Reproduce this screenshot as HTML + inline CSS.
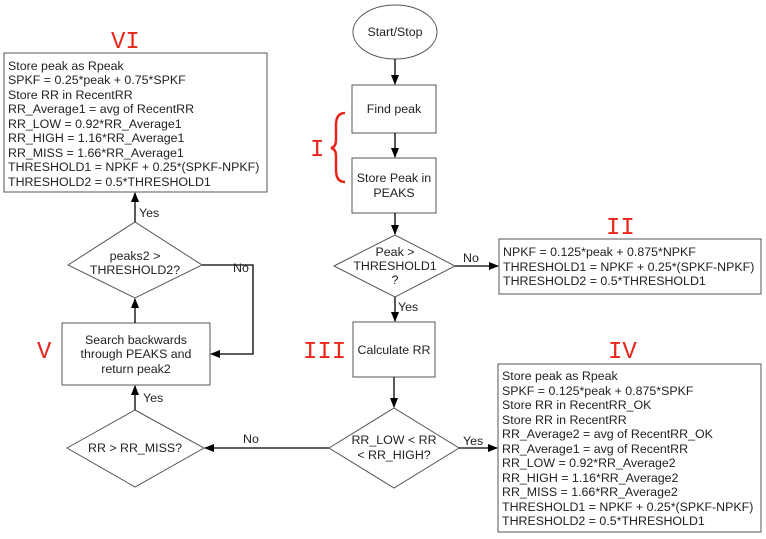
<!DOCTYPE html>
<html><head><meta charset="utf-8"><style>
html,body{margin:0;padding:0;background:#fff;}
svg{display:block;font-family:"Liberation Sans",sans-serif;}
.t{font-size:12.4px;fill:#222;}
.r{font-family:"Liberation Mono",monospace;font-size:24px;fill:#e8261c;}
</style></head><body>
<svg width="766" height="539" viewBox="0 0 766 539">
<defs><marker id="a" markerWidth="10" markerHeight="10" refX="9" refY="5" orient="auto" markerUnits="userSpaceOnUse"><path d="M0,1 L10,5 L0,9 z" fill="#000"/></marker></defs>
<g fill="#fff" stroke="#555" stroke-width="1">
<ellipse cx="395" cy="32" rx="42" ry="27"/>
<rect x="352" y="85" width="84" height="48"/>
<rect x="352" y="158" width="84" height="55"/>
<polygon points="334,266 395,235 455,266 395,297"/>
<rect x="499" y="239" width="262" height="55"/>
<rect x="353" y="322" width="82" height="55"/>
<polygon points="329,448 394,408 459,448 394,488"/>
<rect x="498" y="364" width="263" height="168"/>
<rect x="4" y="53" width="263" height="139"/>
<polygon points="68,265 135,222 202,265 135,298"/>
<rect x="62" y="323" width="148" height="62"/>
<polygon points="67,448 135,410 204,448 135,487"/>
</g>
<g stroke="#000" stroke-width="1.3" fill="none" marker-end="url(#a)">
<line x1="395" y1="59" x2="395" y2="84"/>
<line x1="395" y1="133" x2="395" y2="157"/>
<line x1="395" y1="213" x2="395" y2="234"/>
<line x1="455" y1="266" x2="498" y2="266"/>
<line x1="395" y1="297" x2="395" y2="321"/>
<line x1="394" y1="377" x2="394" y2="407"/>
<line x1="459" y1="448" x2="497" y2="448"/>
<line x1="329" y1="448" x2="205" y2="448"/>
<line x1="135" y1="410" x2="135" y2="386"/>
<line x1="135" y1="323" x2="135" y2="299"/>
<polyline points="202,265 253,265 253,354 211,354"/>
<line x1="135" y1="222" x2="135" y2="193"/>
</g>
<g class="t">
<text x="395" y="36" text-anchor="middle">Start/Stop</text>
<text x="394" y="113" text-anchor="middle">Find peak</text>
<text x="394" y="182" text-anchor="middle">Store Peak in</text>
<text x="394" y="197" text-anchor="middle">PEAKS</text>
<text x="395" y="256" text-anchor="middle">Peak &gt;</text>
<text x="395" y="270" text-anchor="middle">THRESHOLD1</text>
<text x="395" y="284" text-anchor="middle">?</text>
<text x="463" y="262">No</text>
<text x="398" y="311">Yes</text>
<text x="394" y="354" text-anchor="middle">Calculate RR</text>
<text x="394" y="444" text-anchor="middle">RR_LOW &lt; RR</text>
<text x="394" y="459" text-anchor="middle">&lt; RR_HIGH?</text>
<text x="463" y="445">Yes</text>
<text x="243" y="443">No</text>
<text x="135" y="452" text-anchor="middle">RR &gt; RR_MISS?</text>
<text x="143" y="402">Yes</text>
<text x="136" y="344" text-anchor="middle">Search backwards</text>
<text x="136" y="358" text-anchor="middle">through PEAKS and</text>
<text x="136" y="373" text-anchor="middle">return peak2</text>
<text x="135" y="260" text-anchor="middle">peaks2 &gt;</text>
<text x="135" y="274" text-anchor="middle">THRESHOLD2?</text>
<text x="233" y="272">No</text>
<text x="139" y="217">Yes</text>
<text x="8" y="70">Store peak as Rpeak</text>
<text x="8" y="84">SPKF = 0.25*peak + 0.75*SPKF</text>
<text x="8" y="99">Store RR in RecentRR</text>
<text x="8" y="113">RR_Average1 = avg of RecentRR</text>
<text x="8" y="128">RR_LOW = 0.92*RR_Average1</text>
<text x="8" y="142">RR_HIGH = 1.16*RR_Average1</text>
<text x="8" y="157">RR_MISS = 1.66*RR_Average1</text>
<text x="8" y="171">THRESHOLD1 = NPKF + 0.25*(SPKF-NPKF)</text>
<text x="8" y="186">THRESHOLD2 = 0.5*THRESHOLD1</text>
<text x="503" y="256">NPKF = 0.125*peak + 0.875*NPKF</text>
<text x="503" y="271">THRESHOLD1 = NPKF + 0.25*(SPKF-NPKF)</text>
<text x="503" y="285">THRESHOLD2 = 0.5*THRESHOLD1</text>
<text x="502" y="380">Store peak as Rpeak</text>
<text x="502" y="395">SPKF = 0.125*peak + 0.875*SPKF</text>
<text x="502" y="409">Store RR in RecentRR_OK</text>
<text x="502" y="424">Store RR in RecentRR</text>
<text x="502" y="438">RR_Average2 = avg of RecentRR_OK</text>
<text x="502" y="453">RR_Average1 = avg of RecentRR</text>
<text x="502" y="467">RR_LOW = 0.92*RR_Average2</text>
<text x="502" y="482">RR_HIGH = 1.16*RR_Average2</text>
<text x="502" y="496">RR_MISS = 1.66*RR_Average2</text>
<text x="502" y="511">THRESHOLD1 = NPKF + 0.25*(SPKF-NPKF)</text>
<text x="502" y="525">THRESHOLD2 = 0.5*THRESHOLD1</text>
</g>
<g class="r">
<text x="111" y="48">VI</text>
<text x="310" y="156">I</text>
<text x="606" y="234">II</text>
<text x="303" y="358">III</text>
<text x="608" y="358">IV</text>
<text x="37" y="358">V</text>
</g>
<path d="M345,113 Q336,113 336,125 L336,140 Q336,147 331,148 Q336,149 336,156 L336,170 Q336,182 345,182" fill="none" stroke="#e8261c" stroke-width="2.5"/>
</svg>
</body></html>
